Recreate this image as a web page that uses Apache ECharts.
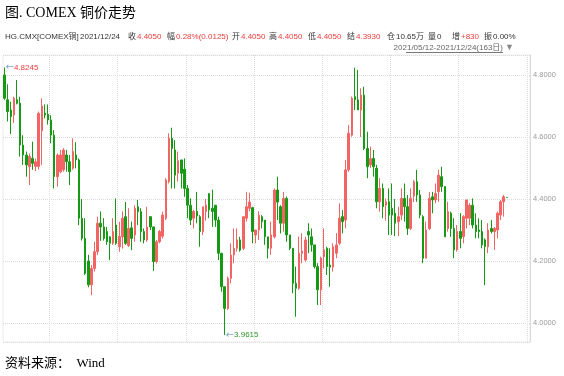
<!DOCTYPE html>
<html>
<head>
<meta charset="utf-8">
<script src="https://cdn.jsdelivr.net/npm/echarts/dist/echarts.min.js"></script>
<style>
  html, body { margin: 0; padding: 0; background: #fff; }
  #main { width: 564px; height: 376px; }
</style>
</head>
<body>
<div id="main"></div>
<script>
// 行情数据 (2021/05/12 - 2021/12/24, 163日)
var openPrices = [
  4.800, 4.720, 4.687, 4.671, 4.720, 4.709, 4.574, 4.542, 4.504, 4.531,
  4.505, 4.505, 4.620, 4.677, 4.673, 4.655, 4.606, 4.472, 4.488, 4.494,
  4.542, 4.520, 4.499, 4.542, 4.526, 4.338, 4.273, 4.200, 4.123, 4.176,
  4.230, 4.322, 4.310, 4.295, 4.278, 4.257, 4.316, 4.246, 4.278, 4.343,
  4.250, 4.307, 4.284, 4.375, 4.359, 4.295, 4.268, 4.343, 4.310, 4.198,
  4.262, 4.280, 4.338, 4.456, 4.596, 4.558, 4.483, 4.526, 4.496, 4.434,
  4.380, 4.338, 4.360, 4.343, 4.295, 4.360, 4.418, 4.370, 4.380, 4.332,
  4.225, 4.117, 4.047, 4.144, 4.220, 4.241, 4.268, 4.241, 4.338, 4.370,
  4.372, 4.284, 4.300, 4.343, 4.332, 4.278, 4.241, 4.278, 4.429, 4.375,
  4.322, 4.402, 4.284, 4.241, 4.128, 4.112, 4.225, 4.203, 4.295, 4.278,
  4.252, 4.182, 4.107, 4.214, 4.241, 4.187, 4.180, 4.225, 4.257, 4.343,
  4.332, 4.494, 4.606, 4.730, 4.720, 4.687, 4.735, 4.563, 4.510, 4.531,
  4.499, 4.391, 4.434, 4.380, 4.391, 4.370, 4.354, 4.327, 4.348, 4.402,
  4.375, 4.305, 4.410, 4.456, 4.413, 4.343, 4.209, 4.305, 4.407, 4.397,
  4.423, 4.472, 4.440, 4.305, 4.354, 4.305, 4.236, 4.295, 4.279, 4.338,
  4.338, 4.380, 4.316, 4.300, 4.295, 4.268, 4.246, 4.305, 4.295, 4.300,
  4.348, 4.391, 4.405
]
var closePrices = [
  4.725, 4.682, 4.666, 4.725, 4.709, 4.574, 4.542, 4.510, 4.537, 4.515,
  4.520, 4.676, 4.700, 4.671, 4.655, 4.606, 4.472, 4.542, 4.542, 4.558,
  4.520, 4.488, 4.553, 4.526, 4.338, 4.273, 4.160, 4.123, 4.176, 4.230,
  4.322, 4.310, 4.273, 4.262, 4.257, 4.295, 4.257, 4.279, 4.338, 4.257,
  4.305, 4.273, 4.370, 4.359, 4.295, 4.268, 4.310, 4.310, 4.198, 4.262,
  4.295, 4.348, 4.461, 4.596, 4.563, 4.477, 4.523, 4.483, 4.434, 4.380,
  4.332, 4.360, 4.345, 4.295, 4.375, 4.380, 4.365, 4.360, 4.332, 4.225,
  4.117, 4.047, 4.144, 4.219, 4.241, 4.268, 4.235, 4.343, 4.375, 4.390,
  4.295, 4.300, 4.348, 4.327, 4.278, 4.241, 4.284, 4.429, 4.390, 4.322,
  4.402, 4.284, 4.241, 4.128, 4.112, 4.225, 4.232, 4.268, 4.284, 4.252,
  4.182, 4.107, 4.209, 4.236, 4.182, 4.180, 4.246, 4.252, 4.338, 4.327,
  4.494, 4.612, 4.725, 4.720, 4.687, 4.735, 4.563, 4.504, 4.530, 4.504,
  4.391, 4.434, 4.375, 4.391, 4.348, 4.348, 4.322, 4.343, 4.402, 4.375,
  4.305, 4.402, 4.456, 4.413, 4.348, 4.209, 4.300, 4.402, 4.397, 4.418,
  4.477, 4.440, 4.278, 4.359, 4.305, 4.236, 4.295, 4.273, 4.343, 4.397,
  4.380, 4.316, 4.295, 4.295, 4.252, 4.246, 4.300, 4.295, 4.305, 4.354,
  4.391, 4.407, 4.405
]
var lowPrices = [
  4.720, 4.650, 4.610, 4.645, 4.705, 4.537, 4.510, 4.472, 4.445, 4.494,
  4.490, 4.495, 4.510, 4.660, 4.640, 4.580, 4.434, 4.440, 4.483, 4.488,
  4.488, 4.445, 4.494, 4.499, 4.316, 4.266, 4.155, 4.115, 4.090, 4.166,
  4.219, 4.265, 4.266, 4.252, 4.203, 4.252, 4.252, 4.230, 4.240, 4.252,
  4.245, 4.235, 4.262, 4.316, 4.262, 4.257, 4.262, 4.300, 4.168, 4.192,
  4.257, 4.273, 4.332, 4.450, 4.434, 4.434, 4.456, 4.434, 4.407, 4.338,
  4.316, 4.305, 4.322, 4.246, 4.284, 4.330, 4.338, 4.310, 4.310, 4.203,
  4.101, 3.9615, 4.042, 4.128, 4.193, 4.230, 4.230, 4.235, 4.327, 4.360,
  4.257, 4.257, 4.268, 4.305, 4.252, 4.208, 4.220, 4.273, 4.332, 4.289,
  4.295, 4.262, 4.235, 4.096, 4.020, 4.107, 4.193, 4.198, 4.225, 4.230,
  4.176, 4.058, 4.058, 4.176, 4.155, 4.117, 4.166, 4.209, 4.252, 4.289,
  4.305, 4.488, 4.601, 4.687, 4.687, 4.600, 4.558, 4.467, 4.500, 4.472,
  4.370, 4.359, 4.338, 4.330, 4.284, 4.284, 4.280, 4.280, 4.332, 4.327,
  4.284, 4.300, 4.390, 4.391, 4.338, 4.193, 4.209, 4.300, 4.354, 4.386,
  4.391, 4.423, 4.278, 4.295, 4.278, 4.209, 4.230, 4.241, 4.257, 4.305,
  4.316, 4.305, 4.273, 4.273, 4.241, 4.122, 4.225, 4.289, 4.236, 4.273,
  4.332, 4.343, 4.405
]
var highPrices = [
  4.8245, 4.770, 4.714, 4.730, 4.784, 4.730, 4.606, 4.553, 4.547, 4.585,
  4.530, 4.682, 4.725, 4.705, 4.705, 4.670, 4.622, 4.547, 4.558, 4.564,
  4.558, 4.542, 4.596, 4.583, 4.531, 4.400, 4.338, 4.220, 4.187, 4.262,
  4.343, 4.360, 4.338, 4.310, 4.280, 4.338, 4.402, 4.327, 4.360, 4.390,
  4.370, 4.327, 4.380, 4.397, 4.370, 4.305, 4.375, 4.343, 4.310, 4.268,
  4.300, 4.359, 4.467, 4.612, 4.630, 4.590, 4.553, 4.526, 4.531, 4.445,
  4.402, 4.365, 4.423, 4.348, 4.375, 4.400, 4.418, 4.430, 4.380, 4.343,
  4.225, 4.117, 4.150, 4.257, 4.305, 4.305, 4.278, 4.343, 4.423, 4.420,
  4.375, 4.300, 4.360, 4.348, 4.332, 4.278, 4.327, 4.434, 4.472, 4.380,
  4.423, 4.408, 4.284, 4.241, 4.182, 4.279, 4.290, 4.278, 4.322, 4.305,
  4.252, 4.193, 4.214, 4.305, 4.246, 4.241, 4.257, 4.290, 4.386, 4.364,
  4.526, 4.639, 4.730, 4.8237, 4.816, 4.757, 4.762, 4.617, 4.569, 4.558,
  4.510, 4.467, 4.450, 4.402, 4.434, 4.450, 4.400, 4.375, 4.434, 4.450,
  4.413, 4.434, 4.461, 4.494, 4.429, 4.348, 4.327, 4.423, 4.423, 4.450,
  4.494, 4.504, 4.440, 4.391, 4.359, 4.338, 4.316, 4.354, 4.348, 4.397,
  4.386, 4.402, 4.354, 4.338, 4.332, 4.273, 4.322, 4.332, 4.310, 4.359,
  4.397, 4.413, 4.405
]
// 横轴：163个交易日，右侧留白7格
var dayLabels = openPrices.map(function (_, i) { return 'D' + (i + 1) })
var emptySlots = ['', '', '', '', '', '', '']
var categories = dayLabels.concat(emptySlots)

// 最高 / 最低 标注
var maxMark = { index: 0, value: 4.8245 }
var minMark = { index: 71, value: 3.9615 }

// 顶部行情栏
var quoteName = 'HG.CMX[COMEX铜]'
var quoteDate = '2021/12/24'
var quoteFields = [
  ['收', '4.4050'], ['幅', '0.28%(0.0125)'], ['开', '4.4050'], ['高', '4.4050'],
  ['低', '4.4050'], ['结', '4.3930'], ['仓', '10.65万'], ['量', '0'],
  ['增', '+830'], ['振', '0.00%']
]
var rangeText = '2021/05/12-2021/12/24(163日)'

// 颜色
var upColor = '#f36464'
var downColor = '#169a16'
var gridColor = '#dcdcdc'
var red = '#ef3b3b'
var uiFont = '"Liberation Sans", "Noto Sans CJK SC", sans-serif'
var serifFont = '"Liberation Serif", "Noto Sans CJK SC", serif'

var candleData = openPrices.map(function (o, i) {
  return [o, closePrices[i], lowPrices[i], highPrices[i]]
})

// 行情栏各项的横向位置
var fieldX = [128, 167, 232, 269, 308, 347, 387, 428, 452, 484]
var blackFields = { '仓': 1, '量': 1, '振': 1 }

var graphics = [
  { type: 'text', x: 5, y: 13, style: { text: '图. COMEX 铜价走势', font: '14px ' + serifFont, fill: '#000', verticalAlign: 'middle' } },
  { type: 'text', x: 5, y: 37, style: { text: quoteName, font: '8px ' + uiFont, fill: '#333', verticalAlign: 'middle' } },
  { type: 'text', x: 80, y: 37, style: { text: quoteDate, font: '8px ' + uiFont, fill: '#333', verticalAlign: 'middle' } },
  { type: 'text', x: 503, y: 48, style: { text: rangeText, font: '8px ' + uiFont, fill: '#666', align: 'right', verticalAlign: 'middle' } },
  { type: 'line', shape: { x1: 406, y1: 52.5, x2: 503, y2: 52.5 }, style: { stroke: '#777', lineWidth: 1 } },
  { type: 'text', x: 505, y: 48, style: { text: '▼', font: '9px ' + uiFont, fill: '#888', verticalAlign: 'middle' } },
  { type: 'text', x: 5, y: 364, style: { text: '资料来源：  Wind', font: '13px ' + serifFont, fill: '#000', verticalAlign: 'middle' } }
]
quoteFields.forEach(function (f, k) {
  graphics.push({
    type: 'text', x: fieldX[k], y: 37,
    style: {
      text: '{k|' + f[0] + '}{v|' + f[1] + '}',
      verticalAlign: 'middle',
      rich: {
        k: { font: '8px ' + uiFont, fill: '#333', padding: [0, 1, 0, 0] },
        v: { font: '8px ' + uiFont, fill: blackFields[f[0]] ? '#333' : red }
      }
    }
  })
})

var myChart = echarts.init(document.getElementById('main'))

var option = {
  animation: false,
  backgroundColor: '#fff',
  grid: { left: 3, right: 34, top: 55, bottom: 34, show: true, borderColor: '#ececec', borderWidth: 1 },
  xAxis: {
    type: 'category',
    data: categories,
    boundaryGap: true,
    axisLine: { show: false },
    axisTick: { show: false },
    axisLabel: { show: false },
    splitLine: {
      show: true,
      interval: function (idx) { return idx >= 15 && (idx - 15) % 22 === 0 },
      lineStyle: { color: gridColor, type: 'dotted', width: 1 }
    }
  },
  yAxis: {
    type: 'value',
    position: 'right',
    min: 3.9387,
    max: 4.8645,
    scale: true,
    axisLine: { show: true, lineStyle: { color: '#d8d8d8' } },
    axisTick: { show: false },
    axisLabel: {
      color: '#9a9a9a',
      fontSize: 7.5,
      fontFamily: 'Liberation Sans',
      margin: 3,
      showMinLabel: false,
      showMaxLabel: false,
      formatter: function (v) {
        return Math.abs(v * 5 - Math.round(v * 5)) < 1e-6 ? v.toFixed(4) : ''
      }
    },
    splitLine: { show: true, lineStyle: { color: gridColor, type: 'dotted', width: 1 } }
  },
  graphic: graphics,
  series: [{
    type: 'candlestick',
    data: candleData,
    barWidth: 2,
    itemStyle: {
      color: upColor,
      color0: downColor,
      borderColor: upColor,
      borderColor0: downColor,
      borderWidth: 1
    },
    markPoint: {
      symbol: 'circle',
      symbolSize: 0,
      data: [
        {
          coord: [maxMark.index, maxMark.value],
          label: {
            show: true, position: 'right', distance: 1,
            formatter: '{a|←}{b|' + maxMark.value.toFixed(4) + '}',
            rich: {
              a: { color: '#7fa6c8', fontSize: 10, fontFamily: 'DejaVu Sans' },
              b: { color: red, fontSize: 8, fontFamily: 'Liberation Sans' }
            }
          }
        },
        {
          coord: [minMark.index, minMark.value],
          label: {
            show: true, position: 'right', distance: 1,
            formatter: '{a|←}{b|' + minMark.value.toFixed(4) + '}',
            rich: {
              a: { color: '#7fa6c8', fontSize: 10, fontFamily: 'DejaVu Sans' },
              b: { color: '#2a9a2a', fontSize: 8, fontFamily: 'Liberation Sans' }
            }
          }
        }
      ]
    }
  }]
}

myChart.setOption(option, true)
</script>
</body>
</html>
